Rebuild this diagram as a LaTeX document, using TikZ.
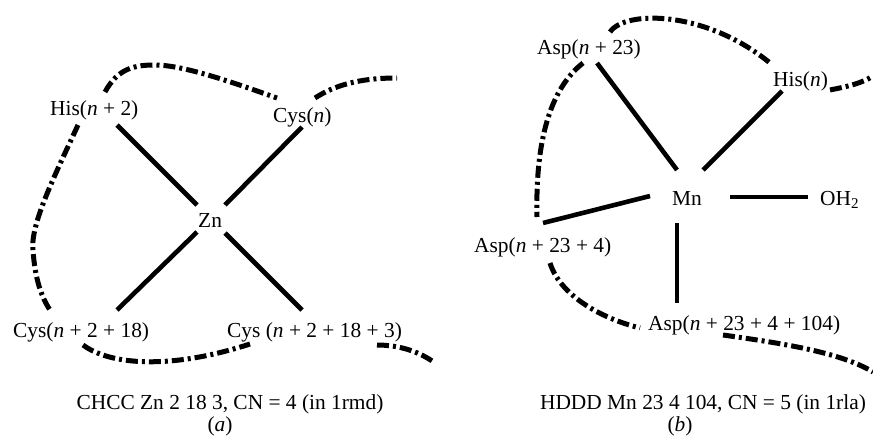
\documentclass[tikz,border=0pt]{standalone}
\usepackage{fontspec}
\setmainfont{Liberation Serif}
\usetikzlibrary{calc}
\begin{document}
\begin{tikzpicture}[x=1pt,y=-1pt,
  lbl/.style={anchor=base west,inner sep=0pt,font=\fontsize{21.4}{25}\selectfont},
  captxt/.style={anchor=base,inner sep=0pt,font=\fontsize{21.4}{25}\selectfont},
  bond/.style={line width=4.6pt},
  chain/.style={line width=5pt,dash pattern=on 12pt off 4pt on 3pt off 4pt}]
\useasboundingbox (0,0) rectangle (873,436);
% ---------- panel (a)
\node[lbl] (his)   at (50,115)  {His(\textit{n} + 2)};
\node[lbl] (cysn)  at (273,122) {Cys(\textit{n})};
\node[lbl] (zn)    at (198,227) {Zn};
\node[lbl] (cys18) at (13,337)  {Cys(\textit{n} + 2 + 18)};
\node[lbl] (cys3)  at (227,337) {Cys (\textit{n} + 2 + 18 + 3)};
\node[captxt] (capa)  at (230,409) {CHCC Zn 2 18 3, CN = 4 (in 1rmd)};
\node[captxt] (laba)  at (220,431) {(\textit{a})};
\draw[bond] ($(his.base west)+(67,10)$) -- ($(zn.base west)+(-1,-22)$);
\draw[bond] ($(cysn.base west)+(29,5)$) -- ($(zn.base west)+(27,-22)$);
\draw[bond] ($(zn.base west)+(-1,5)$) -- ($(cys18.base west)+(104,-27)$);
\draw[bond] ($(zn.base west)+(27,6)$) -- ($(cys3.base west)+(75,-27)$);
\draw[chain] (105,92) .. controls (118,68) and (135,65) .. (155,65)
             .. controls (185,65) and (240,85) .. (277,98);
\draw[chain] (315,98) .. controls (335,85) and (360,78) .. (397,78);
\draw[chain] (78,125) .. controls (55,175) and (30,225) .. (33,250)
             .. controls (35,280) and (42,298) .. (50,310);
\draw[chain] (83,345) .. controls (110,365) and (170,370) .. (250,344);
\draw[chain] (377,345) .. controls (400,345) and (420,352) .. (435,363);
% ---------- panel (b)
\node[lbl] (asp23)  at (537,55)  {Asp(\textit{n} + 23)};
\node[lbl] (hisn)   at (773,87)  {His(\textit{n})};
\node[lbl] (mn)     at (672,205) {Mn};
\node[lbl] (oh)     at (820,205) {OH\textsubscript{2}};
\node[lbl] (asp4)   at (474,252) {Asp(\textit{n} + 23 + 4)};
\node[lbl] (asp104) at (648,330) {Asp(\textit{n} + 23 + 4 + 104)};
\node[captxt] (capb)   at (703,409) {HDDD Mn 23 4 104, CN = 5 (in 1rla)};
\node[captxt] (labb)   at (680,431) {(\textit{b})};
\draw[bond] ($(asp23.base west)+(60,8)$) -- ($(mn.base west)+(5,-35)$);
\draw[bond] ($(hisn.base west)+(9,4)$) -- ($(mn.base west)+(31,-35)$);
\draw[bond] ($(mn.base west)+(58,-8)$) -- ($(oh.base west)+(-12,-8)$);
\draw[bond] ($(mn.base west)+(-22,-9)$) -- ($(asp4.base west)+(69,-29)$);
\draw[bond] ($(mn.base west)+(5,18)$) -- ($(asp104.base west)+(29,-27)$);
\draw[chain] (610,32) .. controls (625,10) and (705,10) .. (770,63);
\draw[chain] (830,90) .. controls (850,86) and (862,83) .. (873,76);
\draw[chain] (583,63) .. controls (555,85) and (535,130) .. (537,217);
\draw[chain] (550,263) .. controls (560,295) and (600,318) .. (640,328);
\draw[chain] (723,335) .. controls (780,343) and (840,352) .. (873,372);
\end{tikzpicture}
\end{document}
